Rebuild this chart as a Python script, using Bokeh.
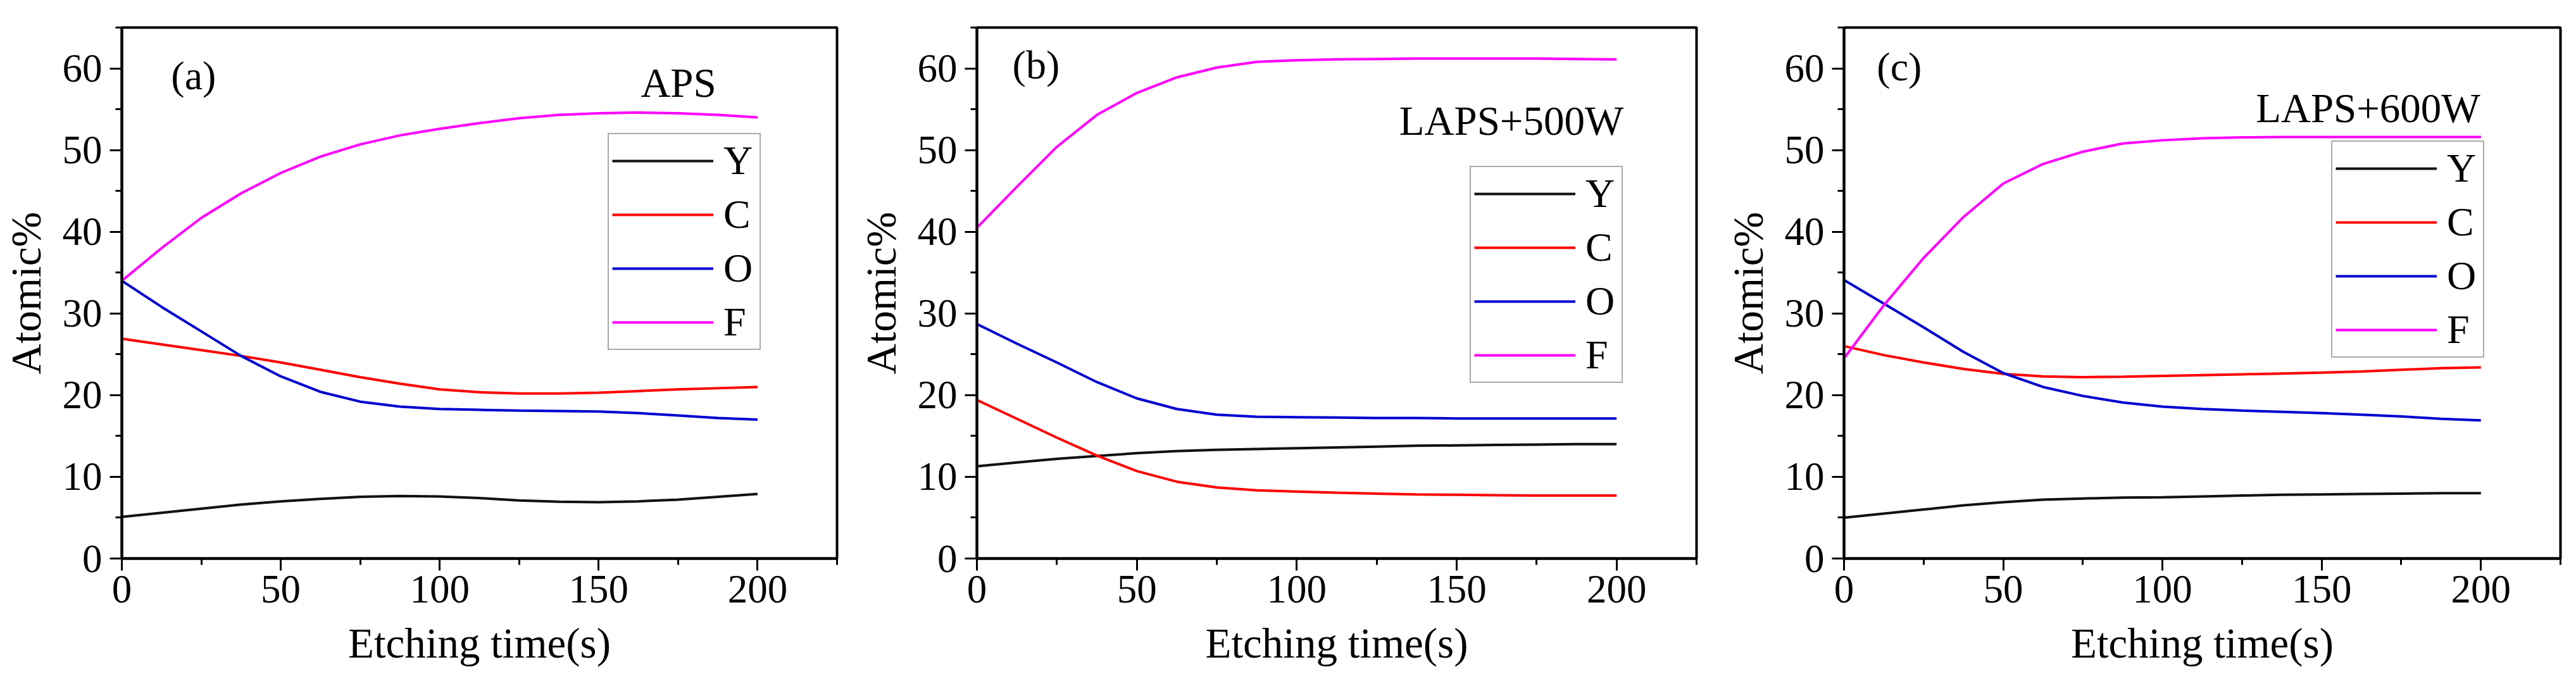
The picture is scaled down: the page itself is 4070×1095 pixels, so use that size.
from bokeh.plotting import figure
from bokeh.layouts import row
from bokeh.models import SingleIntervalTicker, Legend, LegendItem, Range1d
from bokeh.core.properties import value
from bokeh.embed import file_html
from bokeh.resources import INLINE

# ---------------- data ----------------
time_s = [0, 12.5, 25, 37.5, 50, 62.5, 75, 87.5, 100, 112.5, 125, 137.5, 150, 162.5, 175, 187.5, 200]
elements = ["Y", "C", "O", "F"]
element_colors = ["#111111", "#ff0000", "#0000d0", "#ff00ff"]

panel_tags = ["(a)", "(b)", "(c)"]
panel_titles = ["APS", "LAPS+500W", "LAPS+600W"]
x_title = "Etching time(s)"
y_title = "Atomic%"

# (a) APS
a_Y = [5.1, 5.6, 6.1, 6.6, 7.0, 7.3, 7.55, 7.65, 7.6, 7.4, 7.1, 6.95, 6.9, 7.0, 7.2, 7.55, 7.9]
a_C = [26.9, 26.2, 25.5, 24.8, 24.0, 23.1, 22.2, 21.4, 20.7, 20.35, 20.2, 20.2, 20.3, 20.5, 20.7, 20.85, 21.0]
a_O = [34.0, 30.8, 27.8, 24.8, 22.3, 20.4, 19.2, 18.6, 18.3, 18.2, 18.1, 18.05, 18.0, 17.8, 17.5, 17.2, 17.0]
a_F = [34.0, 38.0, 41.7, 44.7, 47.2, 49.2, 50.7, 51.8, 52.6, 53.3, 53.9, 54.3, 54.5, 54.6, 54.5, 54.3, 54.0]

# (b) LAPS+500W
b_Y = [11.3, 11.75, 12.2, 12.55, 12.9, 13.15, 13.3, 13.4, 13.5, 13.6, 13.7, 13.8, 13.85, 13.9, 13.95, 14.0, 14.0]
b_C = [19.4, 17.1, 14.8, 12.6, 10.7, 9.4, 8.7, 8.35, 8.2, 8.05, 7.95, 7.85, 7.8, 7.75, 7.7, 7.7, 7.7]
b_O = [28.7, 26.3, 24.0, 21.6, 19.6, 18.3, 17.6, 17.35, 17.3, 17.25, 17.2, 17.2, 17.15, 17.15, 17.15, 17.15, 17.15]
b_F = [40.5, 45.5, 50.4, 54.3, 57.0, 58.9, 60.1, 60.8, 61.0, 61.1, 61.15, 61.2, 61.2, 61.2, 61.2, 61.15, 61.1]

# (c) LAPS+600W
c_Y = [5.0, 5.5, 6.0, 6.5, 6.9, 7.2, 7.35, 7.45, 7.5, 7.6, 7.7, 7.8, 7.85, 7.9, 7.95, 8.0, 8.0]
c_C = [26.0, 24.9, 24.0, 23.2, 22.6, 22.3, 22.2, 22.25, 22.35, 22.45, 22.55, 22.65, 22.75, 22.9, 23.1, 23.3, 23.4]
c_O = [34.1, 31.2, 28.3, 25.3, 22.7, 21.0, 19.9, 19.1, 18.6, 18.3, 18.1, 17.95, 17.8, 17.6, 17.4, 17.1, 16.9]
c_F = [24.5, 31.0, 36.8, 41.8, 45.9, 48.3, 49.8, 50.8, 51.2, 51.45, 51.55, 51.6, 51.6, 51.6, 51.6, 51.6, 51.6]

series = [[a_Y, a_C, a_O, a_F], [b_Y, b_C, b_O, b_F], [c_Y, c_C, c_O, c_F]]

# ---------------- layout / style ----------------
FONT = "Liberation Serif"
fig_widths = [1351, 1370, 1347]
frame_widths = [1130, 1137, 1132]
legend_locs = [(768, 329), (779, 277), (770, 317)]
tag_pos = [(15.5, 59.1), (11.1, 60.4), (10.3, 60.2)]
title_pos = [(187.0, 58.2), (202.2, 53.6), (199.8, 55.1)]

figs = []
for i in range(3):
    p = figure(width=fig_widths[i], height=1090,
               x_range=Range1d(0, 225), y_range=Range1d(0, 65),
               output_backend="svg", toolbar_location=None,
               min_border_left=192, min_border_right=fig_widths[i] - 192 - frame_widths[i],
               min_border_top=43, min_border_bottom=208)
    p.background_fill_color = "white"
    p.border_fill_color = "white"
    p.outline_line_color = "black"
    p.outline_line_width = 4
    p.xgrid.visible = False
    p.ygrid.visible = False

    p.xaxis.ticker = SingleIntervalTicker(interval=50, num_minor_ticks=2)
    p.yaxis.ticker = SingleIntervalTicker(interval=10, num_minor_ticks=2)
    for ax in (p.xaxis, p.yaxis):
        ax.axis_line_width = 4
        ax.axis_line_color = "black"
        ax.major_tick_out = 19
        ax.major_tick_in = 0
        ax.minor_tick_out = 10
        ax.minor_tick_in = 0
        ax.major_tick_line_width = 3
        ax.minor_tick_line_width = 3
        ax.major_label_text_font = FONT
        ax.major_label_text_font_size = "63px"
        ax.major_label_text_color = "black"
        ax.axis_label_text_font = FONT
        ax.axis_label_text_font_size = "67px"
        ax.axis_label_text_font_style = "normal"
        ax.axis_label_text_color = "black"
    p.xaxis.axis_label = x_title
    p.yaxis.axis_label = y_title
    p.xaxis.major_label_standoff = 8
    p.yaxis.major_label_standoff = 12
    p.xaxis.axis_label_standoff = 24
    p.yaxis.axis_label_standoff = 18

    items = []
    for name, col, ys in zip(elements, element_colors, series[i]):
        r = p.line(time_s, ys, line_color=col, line_width=4)
        items.append(LegendItem(label=name, renderers=[r]))

    leg = Legend(items=items, location=legend_locs[i],
                 label_text_font=FONT, label_text_font_size="64px",
                 label_text_color="black",
                 glyph_width=160, glyph_height=60, label_height=60, label_width=52,
                 label_standoff=16, spacing=11, padding=5, margin=0,
                 border_line_color="#555555", border_line_width=2,
                 background_fill_color="white", background_fill_alpha=1.0)
    p.add_layout(leg)

    p.text(x=[tag_pos[i][0]], y=[tag_pos[i][1]], text=[panel_tags[i]],
           text_font=value(FONT), text_font_size="64px",
           text_align="left", text_baseline="middle", text_color="black")
    p.text(x=[title_pos[i][0]], y=[title_pos[i][1]], text=[panel_titles[i]],
           text_font=value(FONT), text_font_size="65px",
           text_align="right", text_baseline="middle", text_color="black")
    figs.append(p)

layout = row(*figs)
open("out.html", "w").write(file_html(layout, INLINE))
